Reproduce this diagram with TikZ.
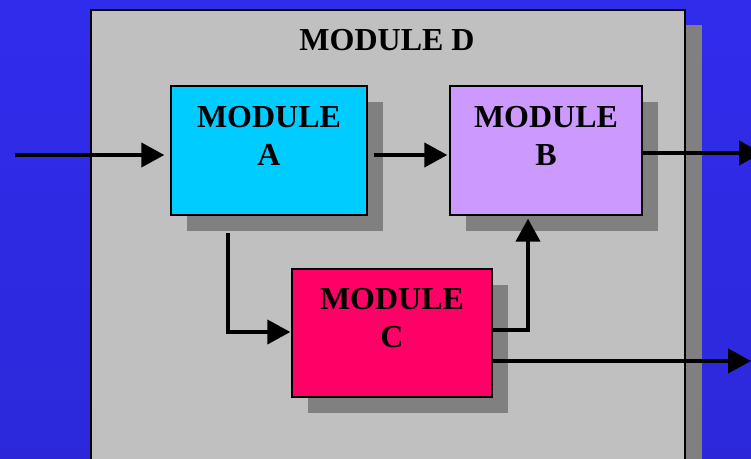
\documentclass[tikz,border=0pt]{standalone}
\usepackage{fontspec}
\setmainfont{Liberation Serif}
\usetikzlibrary{arrows.meta,shadows}
\definecolor{bgtop}{HTML}{302CEC}
\definecolor{bgbot}{HTML}{2C28DA}
\definecolor{boxgray}{HTML}{C0C0C0}
\definecolor{shadowgray}{HTML}{808080}
\definecolor{modA}{HTML}{00CCFF}
\definecolor{modB}{HTML}{CC99FF}
\definecolor{modC}{HTML}{FF0066}
\tikzset{
  modbox/.style={draw=black, line width=1.3pt, rectangle, inner sep=0pt,
    drop shadow={shadow xshift=16pt, shadow yshift=-16pt, fill=shadowgray, opacity=1}},
  lbl/.style={font=\fontsize{32}{38}\selectfont\bfseries, align=center, anchor=base, inner sep=0pt},
  arr/.style={line width=4pt, -{Triangle[length=23pt,width=24pt]}},
}
\begin{document}
\begin{tikzpicture}[x=1pt,y=-1pt]
\useasboundingbox (0,0) rectangle (751,458);
\clip (0,0) rectangle (751,458);
\shade[top color=bgtop, bottom color=bgbot] (0,0) rectangle (751,458);
% outer module D
\node[draw=black, line width=1.5pt, fill=boxgray, rectangle, inner sep=0pt,
  minimum width=594pt, minimum height=520pt, anchor=north west,
  drop shadow={shadow xshift=17pt, shadow yshift=-15pt, fill=shadowgray, opacity=1}] (D) at (90,9) {};
\node[lbl] (Dt) at (387,50) {MODULE D};
% modules
\node[modbox, fill=modA, minimum width=196pt, minimum height=129pt] (A) at (269,150.5) {};
\node[lbl] (At) at (269,165) {MODULE\\A};
\node[modbox, fill=modB, minimum width=192pt, minimum height=129pt] (B) at (546,150.5) {};
\node[lbl] (Bt) at (546,165) {MODULE\\B};
\node[modbox, fill=modC, minimum width=200pt, minimum height=128pt] (C) at (392,333) {};
\node[lbl] (Ct) at (392,347) {MODULE\\C};
% connector points
\coordinate (in) at (15,155);
\coordinate (bout) at (762,153);
\coordinate (ac) at (228,332);
\coordinate (cb) at (528,330);
\coordinate (cout) at (751,361);
% connectors
\draw[arr, shorten >=6pt] (in) -- (in -| A.west);
\draw[arr, shorten <=6pt, shorten >=2pt] (A.east |- in) -- (B.west |- in);
\draw[arr] (B.east |- bout) -- (bout);
\draw[arr, shorten <=17pt, shorten >=1pt] (A.south -| ac) |- (C.west |- ac);
\draw[arr, shorten >=3pt] (C.east |- cb) -| (B.south -| cb);
\draw[arr] (C.east |- cout) -- (cout);
\end{tikzpicture}
\end{document}
